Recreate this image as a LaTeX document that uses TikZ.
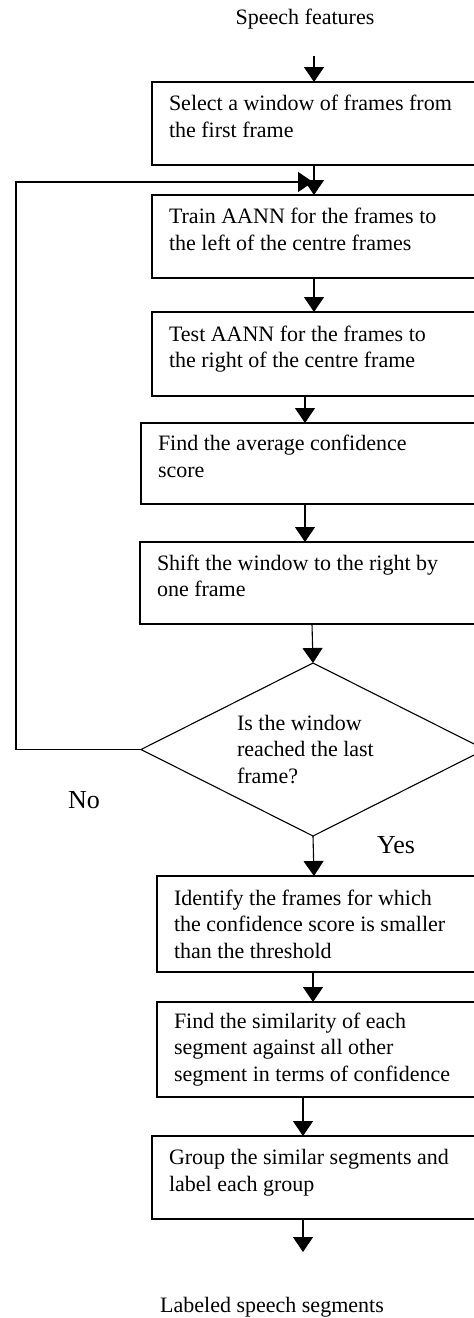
\documentclass[tikz,border=0pt]{standalone}
\usepackage{fontspec}
\setmainfont{Liberation Serif}
\usetikzlibrary{arrows.meta,shapes.geometric}
\begin{document}
\begin{tikzpicture}[x=1pt,y=-1pt,
  every node/.style={outer sep=0pt},
  txt/.style={font=\fontsize{22}{26.5}\selectfont},
  stepbox/.style={txt,draw,line width=1.1pt,rectangle,anchor=north west,
    minimum width=340pt,text width=306pt,inner xsep=17pt,inner ysep=0pt,align=flush left},
  twoline/.style={text depth=41pt},
  decbox/.style={txt,draw,line width=1.1pt,diamond,aspect=2,minimum width=344pt,
    minimum height=173pt,inner sep=0pt,text width=152pt,align=flush left},
  biglbl/.style={font=\fontsize{26}{30}\selectfont},
  arr/.style={line width=1.1pt,-{Triangle[width=20pt,length=15pt]}}
]
\useasboundingbox (0,0) rectangle (474,1318);
\clip (0,0) rectangle (474,1318);

\node[txt] (in) at (305,19) {Speech features};
\node[stepbox,twoline,minimum height=83pt] (b1) at (152,82) {Select a window of frames from\\the first frame};
\node[stepbox,twoline,minimum height=83pt] (b2) at (152,195) {Train AANN for the frames to\\the left of the centre frames};
\node[stepbox,twoline,minimum height=84pt] (b3) at (152,312) {Test AANN for the frames to\\the right of the centre frame};
\node[stepbox,twoline,minimum height=81pt] (b4) at (141,423) {Find the average confidence\\score};
\node[stepbox,twoline,minimum height=82pt] (b5) at (140,542) {Shift the window to the right by\\one frame};
\node[decbox] (dec) at (313,749.5) {Is the window\\reached the last\\frame?};
\node[stepbox,minimum height=96pt] (b6) at (157,876) {Identify the frames for which\\the confidence score is smaller\\than the threshold};
\node[stepbox,minimum height=95pt] (b7) at (157,1002) {Find the similarity of each\\segment against all other\\segment in terms of confidence};
\node[stepbox,twoline,minimum height=83pt] (b8) at (152,1136) {Group the similar segments and\\label each group};
\node[txt] (out) at (272,1307) {Labeled speech segments};
\node[biglbl] (no) at (84,800) {No};
\node[biglbl] (yes) at (396,845) {Yes};

\coordinate (s0) at (314,56);
\coordinate (xa) at (314,0);
\coordinate (xb) at (305,0);
\coordinate (xc) at (312,0);
\coordinate (xd) at (313,0);
\coordinate (xe) at (303,0);
\coordinate (e9) at (303,1252);
\coordinate (lp) at (16,182);
\coordinate (lt) at (313,182);

\draw[arr] (s0) -- (b1.north -| s0);
\draw[arr] (b1.south -| xa) -- (b2.north -| xa);
\draw[arr] (b2.south -| xa) -- (b3.north -| xa);
\draw[arr] (b3.south -| xb) -- (b4.north -| xb);
\draw[arr] (b4.south -| xb) -- (b5.north -| xb);
\draw[arr] (b5.south -| xc) -- (dec.north);
\draw[arr] (dec.south) -- (b6.north -| xa);
\draw[arr] (b6.south -| xd) -- (b7.north -| xd);
\draw[arr] (b7.south -| xe) -- (b8.north -| xe);
\draw[arr] (b8.south -| xe) -- (e9);
\draw[arr] (dec.west) -| (lp) -- (lt);
\end{tikzpicture}
\end{document}
